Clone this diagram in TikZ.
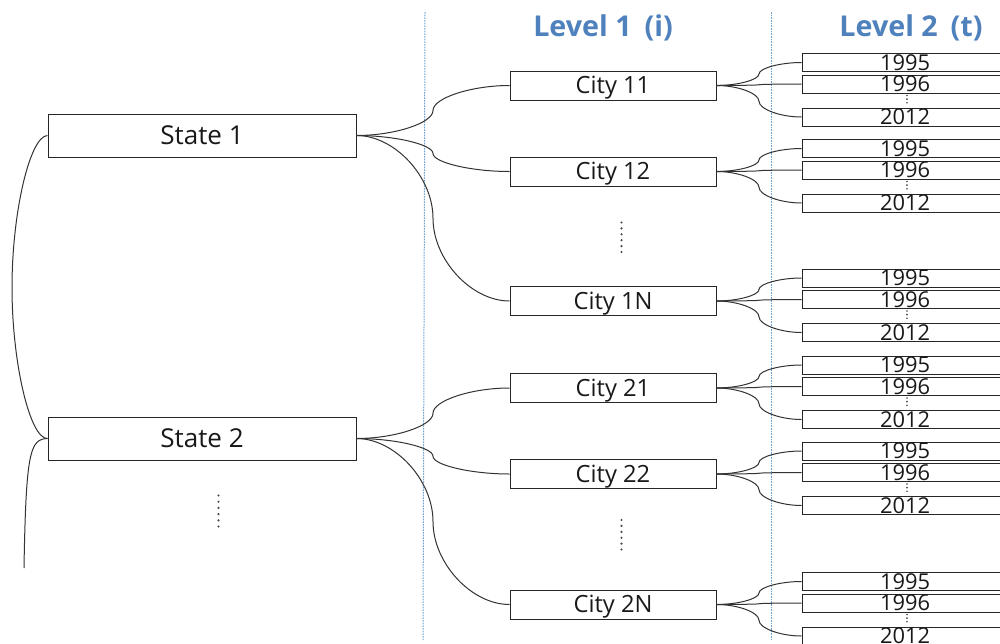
\documentclass[tikz,border=0pt]{standalone}
\usepackage{fontspec}
\setmainfont{Open Sans}
\usetikzlibrary{calc}
\definecolor{lvl}{RGB}{79,129,189}
\definecolor{guide}{RGB}{110,160,210}
\definecolor{dotc}{RGB}{70,70,70}
\begin{document}
\begin{tikzpicture}[x=0.75pt,y=-0.75pt,
  box/.style={draw=black!85,line width=0.75pt,rectangle,inner sep=0pt,fill=white,text=black!90},
  statebox/.style={box,minimum width=231pt,minimum height=32.25pt,font=\fontsize{19.5}{21}\selectfont,text height=13.9pt,text depth=0pt},
  citybox/.style={box,minimum width=154.5pt,minimum height=21.75pt,font=\fontsize{17.8}{19}\selectfont,text height=12.7pt,text depth=0pt},
  yearbox/.style={box,minimum width=154.5pt,minimum height=13.5pt,font=\fontsize{16.4}{17}\selectfont,text height=11.7pt,text depth=0pt},
  link/.style={draw=black!80,line width=0.75pt},
  guideline/.style={draw=guide,line width=0.75pt,dash pattern=on 1.2pt off 0.8pt},
  header/.style={font=\fontsize{21.5}{23}\selectfont\bfseries,text=lvl,inner sep=0pt},
  sbend/.style={to path={let \p1=(\tikztostart), \p2=(\tikztotarget) in
     .. controls ({(3*\x1+\x2)/4},\y1) and ({(\x1+\x2)/2},{(3*\y1+\y2)/4})
     .. ({(\x1+\x2)/2},{(\y1+\y2)/2})
     .. controls ({(\x1+\x2)/2},{(\y1+3*\y2)/4}) and ({(\x1+3*\x2)/4},\y2)
     .. (\tikztotarget)}}
]
\useasboundingbox (0,0) rectangle (1000,643);
\fill[white] (0,0) rectangle (1000,643);

% guide lines
\coordinate (g1t) at (425,12); \coordinate (g1b) at (423,640);
\coordinate (g2t) at (771,12); \coordinate (g2b) at (771,640);
\draw[guideline] (g1t) -- (g1b);
\draw[guideline] (g2t) -- (g2b);

% headers
\node[header] (h1) at (603,28) {Level 1\hspace{0.45em}(i)};
\node[header] (h2) at (911,28) {Level 2\hspace{0.45em}(t)};

% states
\node[statebox] (s1) at (202,135.5) {State 1};
\node[statebox] (s2) at (202,438.5) {State 2};

% left connectors
\coordinate (lmid) at (12,287.5);
\coordinate (tail) at (24,568);
\draw[link] (s1.west) .. controls (30,136) and (12,212) .. (lmid)
            .. controls (12,363) and (30,439) .. (s2.west);
\draw[link] (s2.west) .. controls (30,439) and (26,452) .. (tail);

% cities and years
\foreach \cn/\lab/\yy in {c11/City 11/85.5, c12/City 12/171.5, c1N/City 1N/301, c21/City 21/388, c22/City 22/474, c2N/City 2N/604.5} {
  \node[citybox] (\cn) at (613,\yy) {\lab};
  \node[yearbox] (ya\cn) at (905,\yy-23) {1995};
  \node[yearbox] (yb\cn) at (905,\yy-1.5) {1996};
  \node[yearbox] (yc\cn) at (905,\yy+31.5) {2012};
  \draw[link] (\cn.east) to[sbend] (ya\cn.west);
  \draw[link] (\cn.east) to[sbend] (yb\cn.west);
  \draw[link] (\cn.east) to[sbend] (yc\cn.west);
  \foreach \k in {0,1,2} \fill[dotc] (907,{\yy+10+\k*3.6}) circle (0.7pt);
}

% state to city connectors
\draw[link] (s1.east) to[sbend] (c11.west);
\draw[link] (s1.east) to[sbend] (c12.west);
\draw[link] (s1.east) to[sbend] (c1N.west);
\draw[link] (s2.east) to[sbend] (c21.west);
\draw[link] (s2.east) to[sbend] (c22.west);
\draw[link] (s2.east) to[sbend] (c2N.west);

% vertical ellipses
\foreach \k in {0,...,5} {
  \fill[dotc] (621.5,{222.5+\k*5.9}) circle (0.9pt);
  \fill[dotc] (621.5,{520+\k*5.9}) circle (0.9pt);
  \fill[dotc] (218.5,{495.5+\k*6.2}) circle (0.9pt);
}
\end{tikzpicture}
\end{document}
